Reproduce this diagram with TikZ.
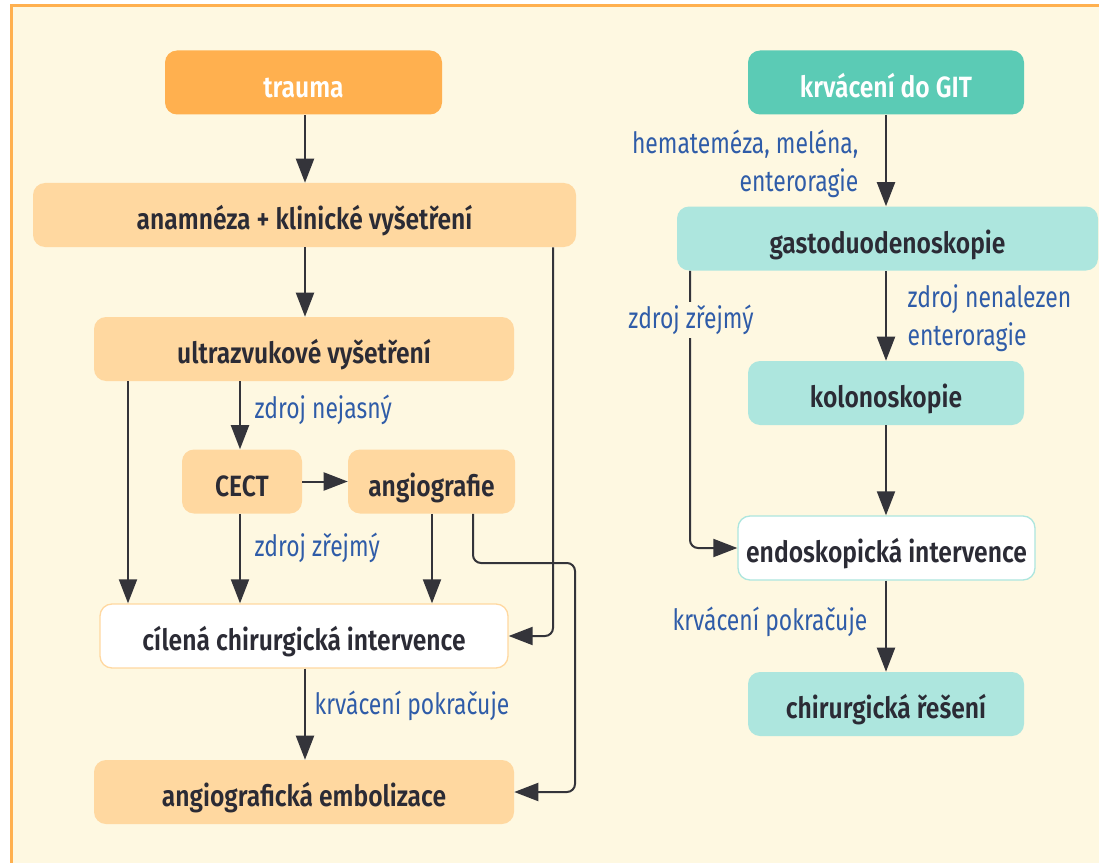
\documentclass[tikz,border=0pt]{standalone}
\usepackage{fontspec}
\setmainfont{Fira Sans}[FakeStretch=0.84, BoldFont={* SemiBold}]
\newfontfamily\labfont{Fira Sans}[FakeStretch=0.78]
\usetikzlibrary{arrows.meta}
\definecolor{bg}{HTML}{FEF8E1}
\definecolor{frameor}{HTML}{FFB04F}
\definecolor{darkor}{HTML}{FFB04F}
\definecolor{lightor}{HTML}{FFD8A0}
\definecolor{darkteal}{HTML}{5BCBB5}
\definecolor{lightteal}{HTML}{ADE6DE}
\definecolor{txt}{HTML}{2B2B35}
\definecolor{lbl}{HTML}{2F5CA8}
\definecolor{ln}{HTML}{34343A}
\tikzset{
  box/.style={rounded corners=9pt, minimum height=48pt, inner sep=0pt, text=txt,
    text height=22pt, text depth=0pt,
    font=\fontsize{22}{26}\selectfont\bfseries},
  orbox/.style={box, fill=lightor},
  orhead/.style={box, fill=darkor, text=white},
  orwhite/.style={box, fill=white, draw=lightor, line width=1pt},
  tlbox/.style={box, fill=lightteal},
  tlhead/.style={box, fill=darkteal, text=white},
  tlwhite/.style={box, fill=white, draw=lightteal, line width=1pt},
  lab/.style={text=lbl, inner sep=1pt, font=\labfont\fontsize{22}{28.5}\selectfont},
  arr/.style={draw=ln, line width=1.5pt, rounded corners=6pt,
    -{Triangle[length=18pt,width=13.5pt]}},
}
\begin{document}
\begin{tikzpicture}[x=0.75pt,y=-0.75pt]
\useasboundingbox (0,0) rectangle (1099,863);
\fill[white] (0,0) rectangle (1099,863);
\draw[frameor, line width=2.25pt, fill=bg] (11,6) rectangle (1115,880);
% left column
\node[orhead, minimum width=207.75pt] (trauma) at (303.5,82.5) {trauma};
\node[orbox, minimum width=407.25pt] (anam) at (304.5,215) {anamnéza + klinické vyšetření};
\node[orbox, minimum width=315pt] (ultra) at (304,349) {ultrazvukové vyšetření};
\node[orbox, minimum width=90pt] (cect) at (242,481.5) {CECT};
\node[orbox, minimum width=125.25pt] (angio) at (431.5,481.5) {angiografie};
\node[orwhite, minimum width=306pt] (cilena) at (304,636) {cílená chirurgická intervence};
\node[orbox, minimum width=315pt] (embol) at (304,792) {angiografická embolizace};
% right column
\node[tlhead, minimum width=207pt] (git) at (886,82.5) {krvácení do GIT};
\node[tlbox, minimum width=315.75pt] (gasto) at (887.5,238.5) {gastoduodenoskopie};
\node[tlbox, minimum width=207pt] (kolono) at (886,393) {kolonoskopie};
\node[tlwhite, minimum width=222.75pt] (endo) at (886.5,548) {endoskopická intervence};
\node[tlbox, minimum width=207pt] (chir) at (886,704) {chirurgická řešení};
% left connectors
\draw[arr] (trauma.south -| 305,0) -- (anam.north -| 305,0);
\draw[arr] (anam.south -| 305,0) -- (ultra.north -| 305,0);
\draw[arr] (anam.south -| 553,0) |- (cilena.east);
\draw[arr] (ultra.south -| 240,0) -- (cect.north -| 240,0);
\draw[arr] (ultra.south -| 128,0) -- (cilena.north -| 128,0);
\draw[arr] (cect.east) -- (angio.west);
\draw[arr] (cect.south -| 240,0) -- (cilena.north -| 240,0);
\draw[arr] (angio.south -| 432,0) -- (cilena.north -| 432,0);
\coordinate (bend) at (575,563);
\draw[arr] (angio.south -| 473,0) |- (bend) |- (embol.east);
\draw[arr] (cilena.south -| 305,0) -- (embol.north -| 305,0);
% right connectors
\draw[arr] (git.south -| 886,0) -- (gasto.north -| 886,0);
\draw[arr] (gasto.south -| 886,0) -- (kolono.north -| 886,0);
\draw[arr] (gasto.south -| 690,0) |- (endo.west);
\draw[arr] (kolono.south -| 886,0) -- (endo.north -| 886,0);
\draw[arr] (endo.south -| 886,0) -- (chir.north -| 886,0);
% labels
\node[lab, anchor=west] (l1) at (253,410) {zdroj nejasný};
\node[lab, anchor=west] (l2) at (253,548) {zdroj zřejmý};
\node[lab, anchor=west] (l3) at (313,706) {krvácení pokračuje};
\node[lab, anchor=east, align=right] (l4) at (860,164) {hemateméza, meléna,\\enteroragie};
\node[lab, anchor=west, align=left] (l5) at (906,318) {zdroj nenalezen\\enteroragie};
\node[lab, fill=bg, inner sep=2pt] (l6) at (691,320) {zdroj zřejmý};
\node[lab, anchor=east] (l7) at (869,622) {krvácení pokračuje};
\end{tikzpicture}
\end{document}
